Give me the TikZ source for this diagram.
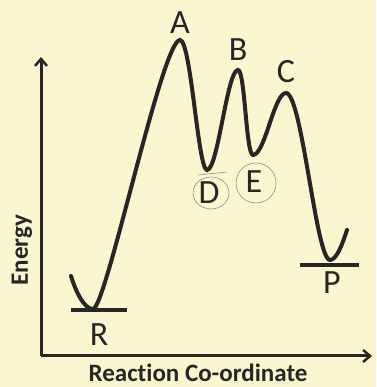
\documentclass[tikz,border=0pt]{standalone}
\usepackage{fontspec}
\setmainfont{Carlito}[Ligatures={NoCommon}]
\usetikzlibrary{arrows.meta}
\definecolor{bgyellow}{RGB}{250,247,208}
\definecolor{ink}{RGB}{40,38,36}
\definecolor{pencil}{RGB}{150,140,120}
\begin{document}
\begin{tikzpicture}[x=1pt,y=1pt,
  curve/.style={draw=ink,line width=4pt,line cap=round},
  axis/.style={draw=ink,line width=3pt,-{Straight Barb[length=7pt,width=12pt,line width=2.5pt]}},
  level/.style={draw=ink,line width=3.2pt},
  lbl/.style={text=ink,font=\fontsize{34}{34}\selectfont,inner sep=0pt},
  axlbl/.style={text=ink,font=\fontsize{25}{25}\selectfont\bfseries,inner sep=0pt},
  ring/.style={draw=pencil,line width=0.6pt}]
\fill[bgyellow] (0,0) rectangle (376,387);
\useasboundingbox (0,0) rectangle (376,387);
% axes
\coordinate (o) at (41,31);
\coordinate (ytop) at (41,330);
\coordinate (xend) at (372,31);
\draw[axis] (o) -- (ytop);
\draw[axis] (o) -- (xend);
% curve points
\coordinate (s) at (71,111);
\coordinate (r) at (93,78);
\coordinate (a) at (180,347);
\coordinate (d) at (207,217);
\coordinate (b) at (238,317);
\coordinate (e) at (253,232);
\coordinate (c) at (286,294);
\coordinate (p) at (330,127);
\coordinate (t) at (347,157);
\draw[curve] (s) .. controls (76,95) and (84,78) .. (r)
  .. controls (106,78) and (162,347) .. (a)
  .. controls (191,347) and (198,217) .. (d)
  .. controls (218,217) and (227,317) .. (b)
  .. controls (245,317) and (246,232) .. (e)
  .. controls (265,232) and (274,294) .. (c)
  .. controls (302,294) and (316,127) .. (p)
  .. controls (337,127) and (343,145) .. (t);
% levels
\coordinate (rl1) at (71,77);
\coordinate (rl2) at (127,77);
\coordinate (pl1) at (300,122);
\coordinate (pl2) at (359,122);
\draw[level] (rl1) -- (rl2);
\draw[level] (pl1) -- (pl2);
% labels
\node[lbl] (la) at (180,364) {A};
\node[lbl] (lb) at (238,337) {B};
\node[lbl] (lc) at (286,315) {C};
\node[lbl] (ld) at (209,194) {D};
\node[lbl] (le) at (254,205) {E};
\node[lbl] (lr) at (99,52) {R};
\node[lbl] (lp) at (332,104) {P};
% pencil rings
\draw[ring] (211,194) ellipse (18 and 16);
\draw[ring] (256,204) ellipse (20 and 20);
\coordinate (m1) at (198,212);
\coordinate (m2) at (227,215);
\draw[ring] (m1) -- (m2);
% axis labels
\node[axlbl,rotate=90] (ylab) at (22,137) {Energy};
\node[axlbl] (xlab) at (198,14) {Reaction Co-ordinate};
\end{tikzpicture}
\end{document}
